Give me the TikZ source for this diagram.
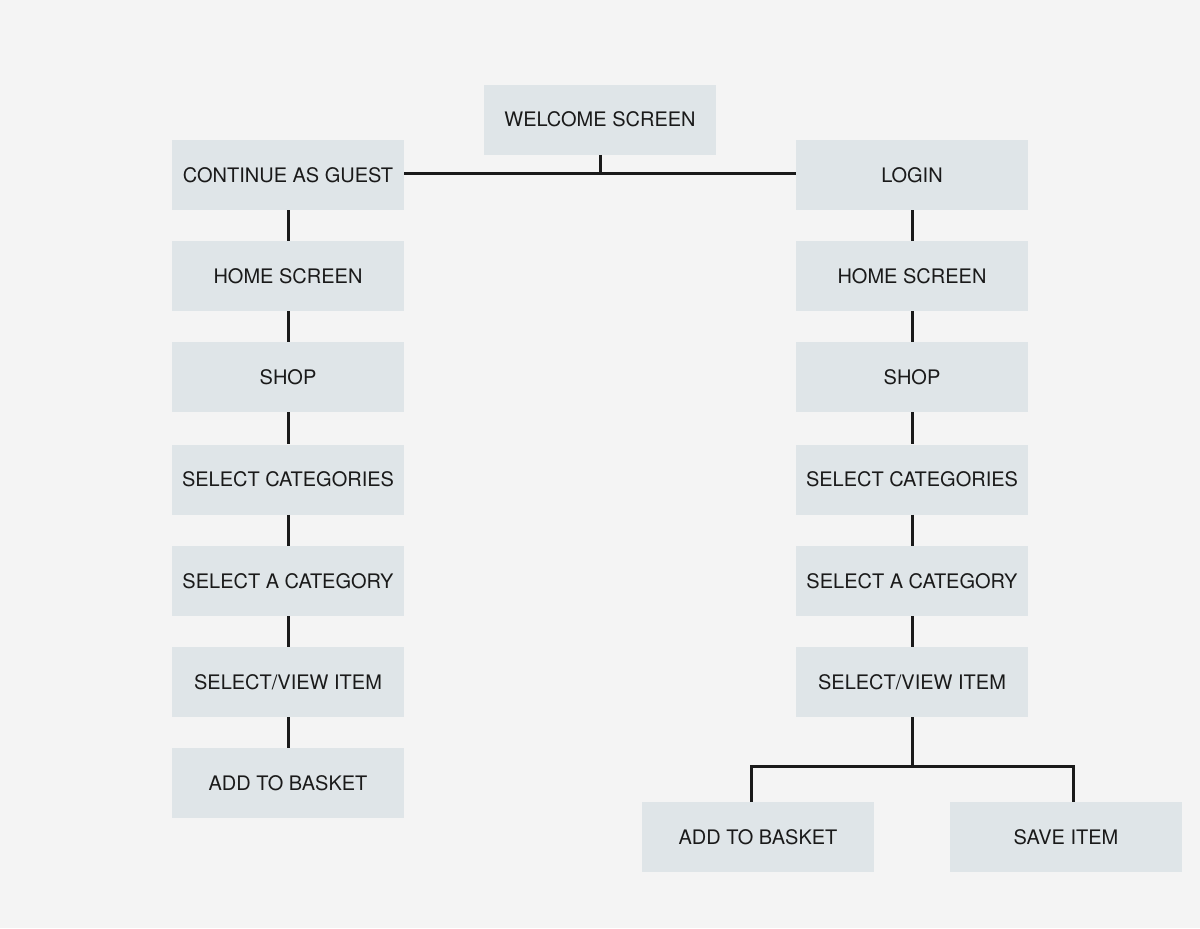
\documentclass[tikz,border=0pt]{standalone}
\usepackage{fontspec}
\setmainfont{TeX Gyre Heros}
\definecolor{bgC}{RGB}{244,244,244}
\definecolor{boxC}{RGB}{223,229,232}
\definecolor{inkC}{RGB}{26,26,26}
\begin{document}
\begin{tikzpicture}[x=0.5pt,y=-0.5pt,
    screen/.style={fill=boxC,text=inkC,minimum width=116pt,minimum height=35pt,inner sep=0pt,font=\fontsize{10}{12}\selectfont},
    link/.style={draw=inkC,line width=1.5pt}]
                \fill[bgC] (0,0) rectangle (1200,928);

                \node[screen] (welcome) at (600,119.5) {WELCOME SCREEN};
                \node[screen] (guest) at (288,175) {CONTINUE AS GUEST};
                \node[screen] (login) at (912,175) {LOGIN};

                % guest column
                \node[screen] (homeL) at (288,276) {HOME SCREEN};
                \node[screen] (shopL) at (288,377) {SHOP};
                \node[screen] (catsL) at (288,479.5) {SELECT CATEGORIES};
                \node[screen] (catL) at (288,581) {SELECT A CATEGORY};
                \node[screen] (viewL) at (288,682) {SELECT/VIEW ITEM};
                \node[screen] (basketL) at (288,783) {ADD TO BASKET};

                % login column
                \node[screen] (homeR) at (912,276) {HOME SCREEN};
                \node[screen] (shopR) at (912,377) {SHOP};
                \node[screen] (catsR) at (912,479.5) {SELECT CATEGORIES};
                \node[screen] (catR) at (912,581) {SELECT A CATEGORY};
                \node[screen] (viewR) at (912,682) {SELECT/VIEW ITEM};
                \node[screen] (basketR) at (758,837) {ADD TO BASKET};
                \node[screen] (saveR) at (1066,837) {SAVE ITEM};

                \draw[link] ([yshift=1pt]guest.east) -- ([yshift=1pt]login.west);
                \draw[link] (welcome.south) -- ([yshift=1pt]welcome.south |- guest.east);

                \foreach \a/\b in {guest/homeL,homeL/shopL,shopL/catsL,catsL/catL,catL/viewL,viewL/basketL,
                                   login/homeR,homeR/shopR,shopR/catsR,catsR/catR,catR/viewR}
                    \draw[link] (\a.south) -- (\b.north);

                \coordinate (fork) at (912,766);
                \coordinate (forkL) at (751,766);
                \coordinate (forkR) at (1073,766);
                \draw[link] (viewR.south) -- (fork);
                \draw[link] (forkL |- basketR.north) -- (forkL) -- (forkR) -- (forkR |- saveR.north);
            \end{tikzpicture}
\end{document}
